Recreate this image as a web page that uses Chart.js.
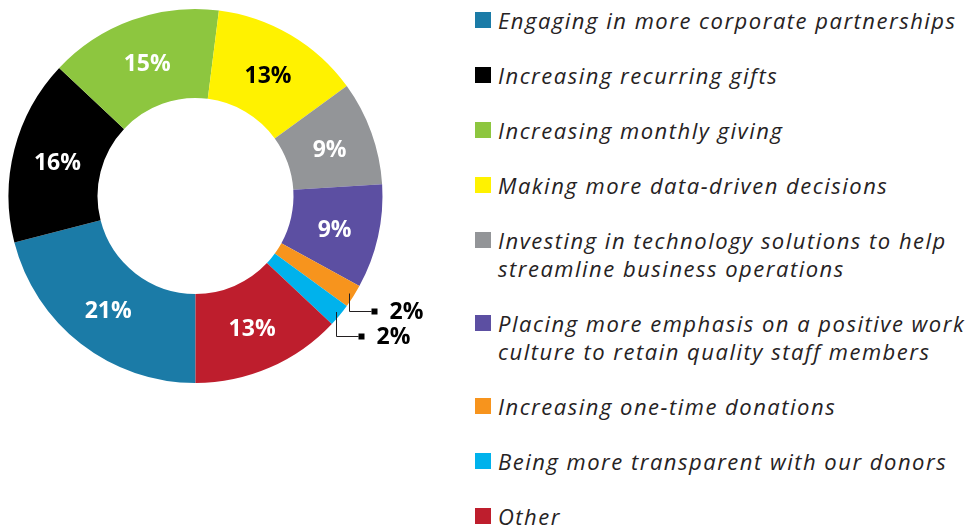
<!DOCTYPE html>
<html>
<head>
<meta charset="utf-8">
<script src="https://cdn.jsdelivr.net/npm/chart.js@4.4.1/dist/chart.umd.min.js"></script>
<style>
  html, body { margin: 0; padding: 0; background: #fff; }
  body { width: 970px; height: 527px; position: relative; overflow: hidden; }
  #chartBox { position: absolute; left: 0; top: 0; width: 440px; height: 400px; }
  #legend {
    position: absolute; left: 475px; top: 6px;
    display: flex; flex-direction: column; gap: 27px;
    font-family: "Open Sans", sans-serif; font-style: italic;
    font-size: 22px; line-height: 28px; color: #262223; letter-spacing: 1.5px;
    white-space: nowrap;
  }
  .legend-item { display: flex; align-items: flex-start; }
  .legend-box { width: 16px; height: 16px; margin-top: 6px; margin-right: 7px; flex: none; }
</style>
</head>
<body>
<div id="chartBox"><canvas id="donut"></canvas></div>
<div id="legend"></div>

<script>
const labels = [
  ["Engaging in more corporate partnerships"],
  ["Increasing recurring gifts"],
  ["Increasing monthly giving"],
  ["Making more data-driven decisions"],
  ["Investing in technology solutions to help", "streamline business operations"],
  ["Placing more emphasis on a positive work", "culture to retain quality staff members"],
  ["Increasing one-time donations"],
  ["Being more transparent with our donors"],
  ["Other"]
];
const values = [21, 16, 15, 13, 9, 9, 2, 2, 13];
const colors = ["#1b7ba7", "#000000", "#8dc63f", "#fff200", "#939598", "#5c4fa2", "#f7941d", "#00b2ec", "#be1e2d"];
const labelColors = ["#fff", "#fff", "#fff", "#000", "#fff", "#fff", "#000", "#000", "#fff"];
// slices too small for an inside label get a leader line out to the right
const outsideDrop = [0, 0, 0, 0, 0, 0, 17, 24, 0];

const sliceLabels = {
  id: "sliceLabels",
  afterDatasetsDraw(chart) {
    const ctx = chart.ctx;
    const meta = chart.getDatasetMeta(0);
    ctx.save();
    ctx.font = "bold 23px 'Open Sans', sans-serif";
    ctx.textBaseline = "middle";
    meta.data.forEach((arc, i) => {
      const p = arc.getProps(["x", "y", "startAngle", "endAngle", "innerRadius", "outerRadius"], true);
      const mid = (p.startAngle + p.endAngle) / 2;
      const text = values[i] + "%";
      if (outsideDrop[i] === 0) {
        const r = (p.innerRadius + p.outerRadius) / 2;
        ctx.fillStyle = labelColors[i];
        ctx.textAlign = "center";
        ctx.fillText(text, p.x + Math.cos(mid) * r, p.y + Math.sin(mid) * r + 3);
      } else {
        const r = p.outerRadius - 5;
        const sx = Math.round(p.x + Math.cos(mid) * r) + 0.5;
        const sy = p.y + Math.sin(mid) * r;
        const ey = Math.round(sy + outsideDrop[i]) + 0.5;
        const ex = sx + 22;
        ctx.strokeStyle = "#231f20";
        ctx.lineWidth = 1;
        ctx.beginPath();
        ctx.moveTo(sx, sy);
        ctx.lineTo(sx, ey);
        ctx.lineTo(ex, ey);
        ctx.stroke();
        ctx.fillStyle = "#000";
        ctx.fillRect(ex, ey - 3, 6, 6);
        ctx.textAlign = "left";
        ctx.fillText(text, ex + 18, ey + 1);
      }
    });
    ctx.restore();
  }
};

new Chart(document.getElementById("donut"), {
  type: "doughnut",
  data: {
    labels: labels.map(l => l.join(" ")),
    datasets: [{
      data: values,
      backgroundColor: colors,
      borderWidth: 0
    }]
  },
  options: {
    responsive: true,
    maintainAspectRatio: false,
    animation: false,
    rotation: 180,
    cutout: "52.4%",
    layout: { padding: { left: 8.5, right: 57.5, top: 9, bottom: 17 } },
    plugins: {
      legend: { display: false },
      tooltip: { enabled: false }
    }
  },
  plugins: [sliceLabels]
});

document.getElementById("legend").innerHTML = labels.map((lines, i) => `
  <div class="legend-item">
    <div class="legend-box" style="background:${colors[i]}"></div>
    <div>${lines.join("<br>")}</div>
  </div>
`).join("");
</script>
</body>
</html>
